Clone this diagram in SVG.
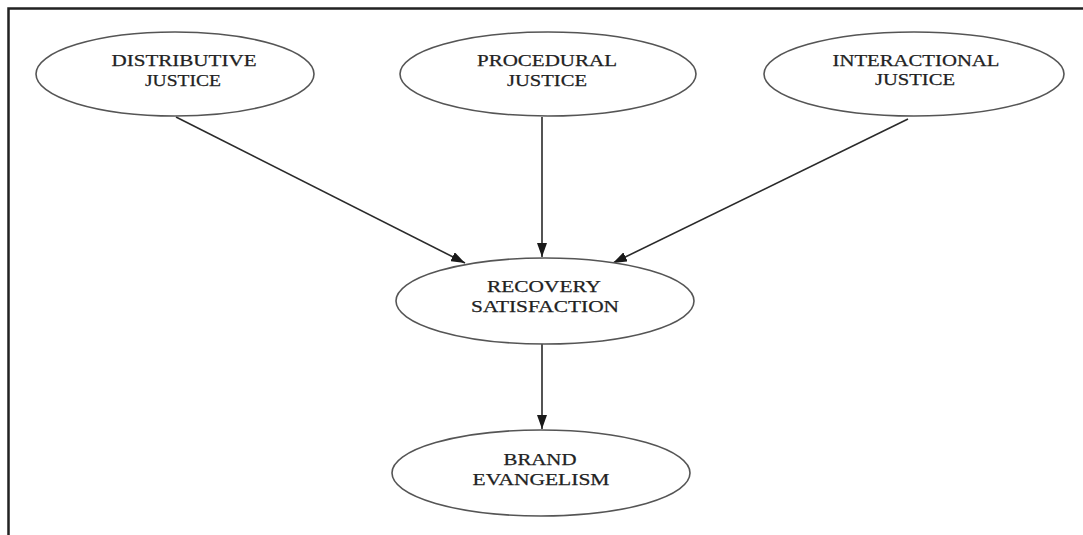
<svg xmlns="http://www.w3.org/2000/svg" width="1083" height="535" viewBox="0 0 1083 535">
<style>
.node ellipse{fill:#fff;stroke:#555;stroke-width:1.6}
.node text{font-family:"Liberation Serif","Times New Roman",serif;font-size:17.5px;fill:#222;text-anchor:middle;stroke:#222;stroke-width:0.25}
.edge{stroke:#2a2a2a;stroke-width:1.6;fill:none;marker-end:url(#ah)}
</style>
<defs>
<marker id="ah" viewBox="0 0 14 10" refX="14" refY="5" markerWidth="14" markerHeight="10" markerUnits="userSpaceOnUse" orient="auto">
<path d="M0,0 L14,5 L0,10 Z" fill="#1a1a1a"/>
</marker>
</defs>
<rect width="1083" height="535" fill="#fff"/>
<path d="M8.5,535 L8.5,8.5 L1083,8.5" fill="none" stroke="#222" stroke-width="2.5"/>
<g id="connectors">
<line class="edge" x1="176" y1="117" x2="465" y2="263"/>
<line class="edge" x1="542" y1="117" x2="542" y2="257"/>
<line class="edge" x1="908" y1="119" x2="613" y2="263"/>
<line class="edge" x1="542" y1="344" x2="542" y2="429"/>
</g>
<g id="distributive" class="node">
<ellipse cx="175" cy="74" rx="139" ry="42"/>
<text x="184" y="66" textLength="145" lengthAdjust="spacingAndGlyphs">DISTRIBUTIVE</text>
<text x="183" y="85.5" textLength="76" lengthAdjust="spacingAndGlyphs">JUSTICE</text>
</g>
<g id="procedural" class="node">
<ellipse cx="548" cy="74" rx="148" ry="42"/>
<text x="547" y="66" textLength="140" lengthAdjust="spacingAndGlyphs">PROCEDURAL</text>
<text x="547" y="85.5" textLength="80" lengthAdjust="spacingAndGlyphs">JUSTICE</text>
</g>
<g id="interactional" class="node">
<ellipse cx="914" cy="74" rx="150" ry="42"/>
<text x="916" y="65.5" textLength="167" lengthAdjust="spacingAndGlyphs">INTERACTIONAL</text>
<text x="915" y="85" textLength="80" lengthAdjust="spacingAndGlyphs">JUSTICE</text>
</g>
<g id="recovery" class="node">
<ellipse cx="545" cy="301" rx="149" ry="43"/>
<text x="544" y="292" textLength="114" lengthAdjust="spacingAndGlyphs">RECOVERY</text>
<text x="545" y="312" textLength="148" lengthAdjust="spacingAndGlyphs">SATISFACTION</text>
</g>
<g id="brand" class="node">
<ellipse cx="541" cy="473" rx="149" ry="43"/>
<text x="540" y="465" textLength="73" lengthAdjust="spacingAndGlyphs">BRAND</text>
<text x="541" y="485" textLength="137" lengthAdjust="spacingAndGlyphs">EVANGELISM</text>
</g>
</svg>
